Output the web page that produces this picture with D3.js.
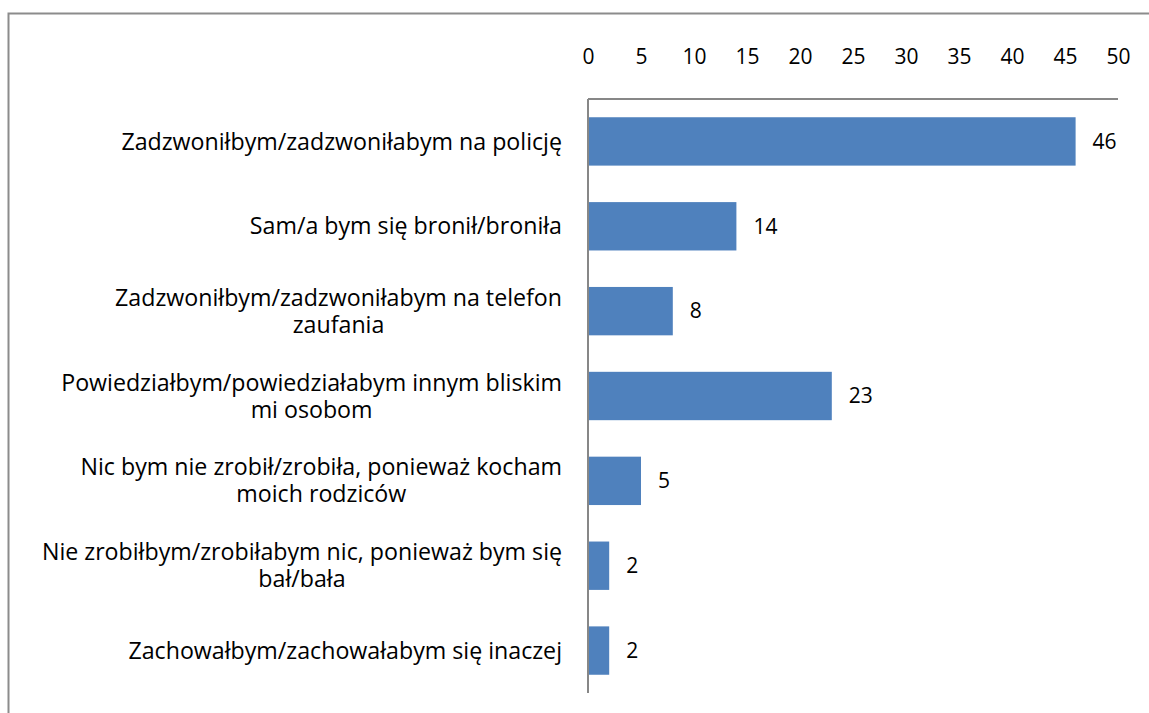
<!DOCTYPE html>
<meta charset="utf-8">
<script src="https://cdn.jsdelivr.net/npm/d3@7"></script>
<style>
body { margin: 0; background: #fff; }
text {
  fill: #000;
  font-family: "Open Sans", sans-serif;
  font-size: 23.2px;
}
.axis path { stroke: #878787; stroke-width: 2px; }
</style>
<body>
<script>
// labels split into lines as in the original
var categories = [
  ["Zadzwoniłbym/zadzwoniłabym na policję"],
  ["Sam/a bym się bronił/broniła"],
  ["Zadzwoniłbym/zadzwoniłabym na telefon", "zaufania"],
  ["Powiedziałbym/powiedziałabym innym bliskim", "mi osobom"],
  ["Nic bym nie zrobił/zrobiła, ponieważ kocham", "moich rodziców"],
  ["Nie zrobiłbym/zrobiłabym nic, ponieważ bym się", "bał/bała"],
  ["Zachowałbym/zachowałabym się inaczej"]
];
var values = [46, 14, 8, 23, 5, 2, 2];
var ticks = [0, 5, 10, 15, 20, 25, 30, 35, 40, 45, 50];

var width = 1149,
    height = 713;

var svg = d3.select("body").append("svg")
    .attr("width", width)
    .attr("height", height);

// outer frame (only top and left edges show)
svg.append("rect")
    .attr("x", 8.5).attr("y", 13.5)
    .attr("width", 1300).attr("height", 900)
    .style("fill", "none")
    .style("stroke", "#8c8c8c")
    .style("stroke-width", 2);

var x = d3.scaleLinear().domain([0, 50]).range([588, 1118]);
var y = d3.scaleBand()
    .domain(d3.range(categories.length))
    .range([99, 693])
    .paddingInner(0.43)
    .paddingOuter(0.215);

// top axis
var xAxis = svg.append("g")
    .attr("class", "axis")
    .attr("transform", "translate(0,99)")
    .call(d3.axisTop(x).tickValues(ticks).tickSize(0).tickPadding(0));
xAxis.select(".domain").attr("d", "M" + x(0) + ",0H" + x(50));
xAxis.selectAll("text")
    .attr("y", -42)
    .attr("dy", "0.35em")
    .style("font-size", "21px")
    .style("font-family", "'Open Sans', sans-serif")
    .style("fill", "#000");

// left axis line
svg.append("line")
    .attr("x1", x(0)).attr("x2", x(0))
    .attr("y1", 99).attr("y2", 693)
    .style("stroke", "#878787")
    .style("stroke-width", 2);

svg.append("g")
  .selectAll("rect")
  .data(values)
  .enter().append("rect")
    .attr("x", x(0) + 1)
    .attr("y", (d, i) => y(i))
    .attr("width", d => x(d) - x(0) - 1)
    .attr("height", y.bandwidth())
    .style("fill", "#4f81bd");

svg.append("g")
  .selectAll("text")
  .data(values)
  .enter().append("text")
    .attr("x", d => x(d) + 17)
    .attr("y", (d, i) => y(i) + y.bandwidth() / 2)
    .attr("dy", "0.35em")
    .style("font-size", "21px")
    .text(d => d);

// category labels: one text per category, lines as tspans centred in a right-aligned block
var labelRight = 562,
    lineH = 27;
var lab = svg.append("g");
categories.forEach(function(lines, i) {
  var cy = y(i) + y.bandwidth() / 2;
  var t = lab.append("text")
      .attr("text-anchor", "middle");
  var ts = t.selectAll("tspan")
    .data(lines)
    .enter().append("tspan")
      .attr("y", (d, j) => cy + (j - (lines.length - 1) / 2) * lineH)
      .attr("dy", "0.35em")
      .text(d => d);
  var w = d3.max(ts.nodes(), n => n.getComputedTextLength());
  ts.attr("x", labelRight - w / 2);
});
</script>
</body>
</html>
